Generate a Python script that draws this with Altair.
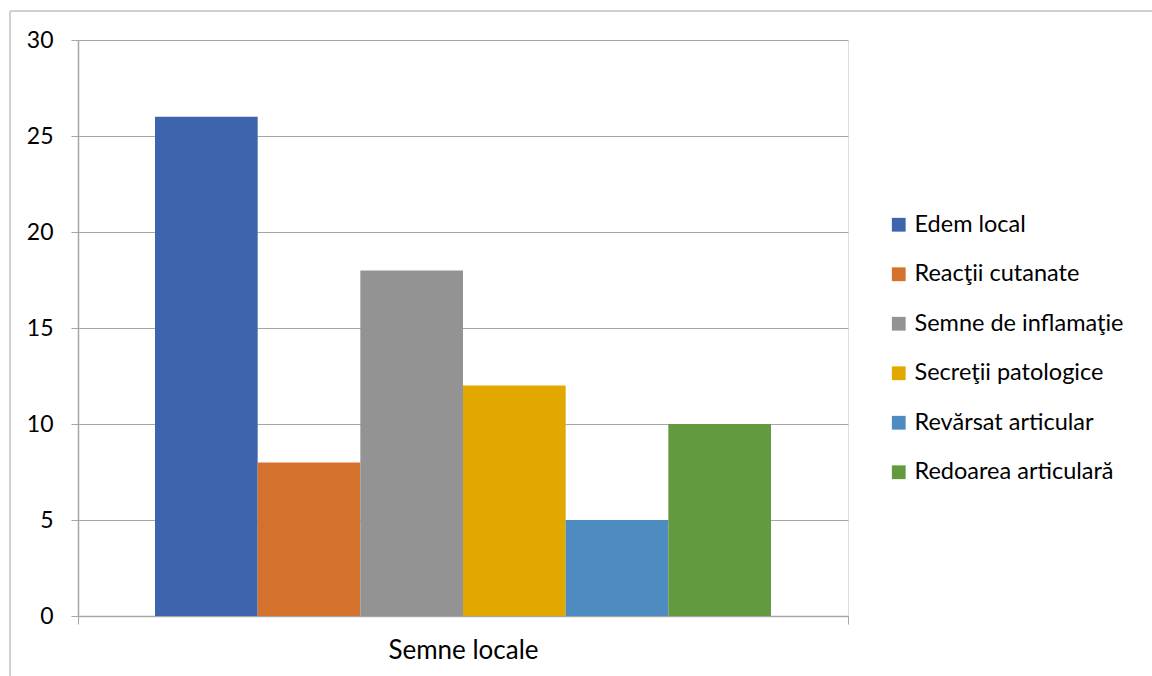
import altair as alt
import pandas as pd

category = ["Semne locale"] * 6
series = ["Edem local", "Reacţii cutanate", "Semne de inflamaţie",
          "Secreţii patologice", "Revărsat articular", "Redoarea articulară"]
values = [26, 8, 18, 12, 5, 10]
colors = ["#3D64AD", "#D4712D", "#939393", "#E1A900", "#4E8BC0", "#639A3F"]

df = pd.DataFrame({"cat": category, "series": series, "value": values})

FONT = "Lato"
GRID = "#A6A6A6"

bars = alt.Chart(df).mark_bar().encode(
    x=alt.X("cat:N", title=None,
            scale=alt.Scale(paddingInner=0, paddingOuter=0),
            axis=alt.Axis(labelAngle=0, labelFontSize=26, labelColor="#000",
                          labelFont=FONT, labelPadding=13, tickBand="extent",
                          tickSize=8, tickColor=GRID, domainColor=GRID,
                          domainWidth=1.5, grid=False)),
    xOffset=alt.XOffset("series:N", sort=series,
                        scale=alt.Scale(paddingInner=0, paddingOuter=0.75)),
    y=alt.Y("value:Q", title=None,
            scale=alt.Scale(domain=[0, 30], nice=False),
            axis=alt.Axis(values=[0, 5, 10, 15, 20, 25, 30], labelFontSize=23,
                          labelColor="#000", labelFont=FONT, labelPadding=18,
                          tickSize=7, tickColor=GRID, domainColor=GRID,
                          gridColor=GRID, domainWidth=1.5)),
    color=alt.Color("series:N", sort=series,
                    scale=alt.Scale(domain=series, range=colors),
                    legend=alt.Legend(title=None, orient="none", legendX=809,
                                      legendY=173, symbolType="square",
                                      symbolSize=190, symbolStrokeWidth=0,
                                      labelFontSize=23.5, labelFont=FONT,
                                      labelColor="#000", rowPadding=24.5,
                                      labelOffset=4, labelLimit=300)),
)

border_left = alt.Chart(df).mark_rule(color="#D0D0D0", strokeWidth=1).encode(
    x=alt.value(-68), y=alt.value(-29), y2=alt.value(640))
border_top = alt.Chart(df).mark_rule(color="#D0D0D0", strokeWidth=1).encode(
    x=alt.value(-68), x2=alt.value(1080), y=alt.value(-29))

chart = alt.layer(bars, border_left, border_top).properties(
    width=770, height=576,
    padding={"left": 78, "top": 40, "right": 304, "bottom": 60},
    autosize=alt.AutoSizeParams(type="none"),
).configure_view(stroke=None).configure(background="white")

chart.save("out.html", embed_options={"renderer": "svg", "actions": False})
